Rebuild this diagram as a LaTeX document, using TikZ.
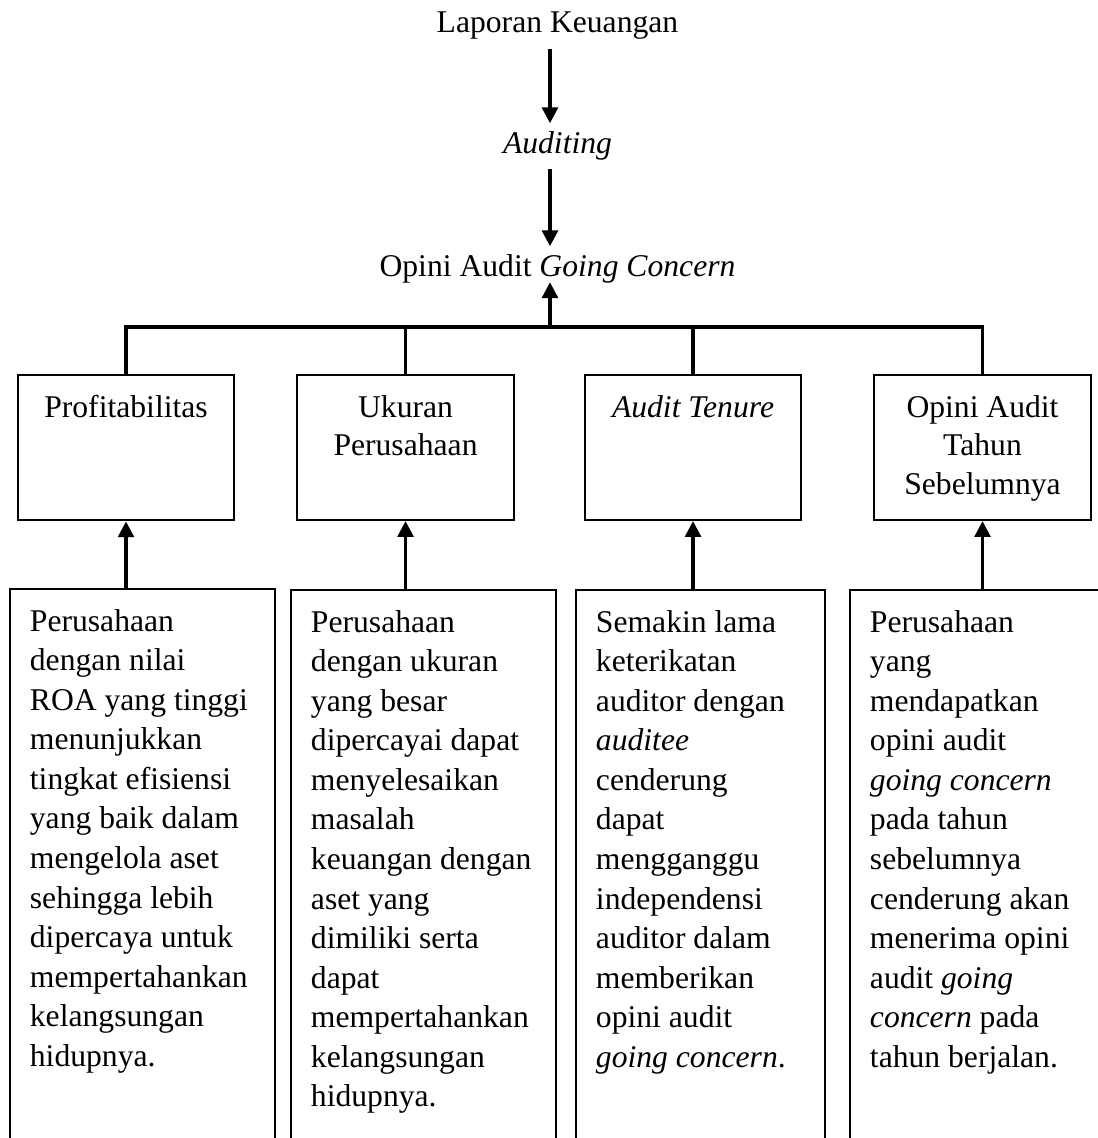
\documentclass[tikz,border=0pt]{standalone}
\usepackage{fontspec}
\setmainfont{Liberation Serif}
\usetikzlibrary{arrows.meta}
\tikzset{
  title/.style={font=\fontsize{12}{15}\selectfont, inner sep=0.11cm, anchor=base},
  varbox/.style={draw, line width=0.8pt, anchor=north, text width=2.69cm,
                 align=flush center, inner xsep=0.1cm, inner ysep=0.27cm,
                 text depth=1.1cm, font=\fontsize{12}{14.6}\selectfont},
  notebox/.style={draw, line width=0.8pt, anchor=north west, text width=3.0cm,
                  align=flush left, inner xsep=0.265cm, inner ysep=0.27cm,
                  text depth=7.5cm, font=\fontsize{12}{15}\selectfont},
  link/.style={line width=1.2pt},
  arrowlink/.style={link, -{Triangle[length=6pt, width=6pt]}},
}

\begin{document}
\begin{tikzpicture}
    \useasboundingbox (0,0) rectangle (14.627,-15.173);
    % top chain
    \node[title] (lk) at (7.433,-0.44) {Laporan Keuangan};
    \node[title] (aud) at (7.433,-2.053) {\textit{Auditing}};
    \node[title] (gc) at (7.433,-3.693) {Opini Audit \textit{Going Concern}};
    \coordinate (mid) at (7.333,-4.36);
    \draw[arrowlink] (lk.south -| mid) -- (aud.north -| mid);
    \draw[arrowlink] (aud.south -| mid) -- (gc.north -| mid);
    \draw[arrowlink, shorten >=0.07cm] (mid) -- (gc.base -| mid);

    % variables
    \node[varbox] (up1) at (1.68,-4.987) {Profitabilitas};
    \node[varbox] (up2) at (5.407,-4.987) {Ukuran\\Perusahaan};
    \node[varbox] (up3) at (9.24,-4.987) {\textit{Audit Tenure}};
    \node[varbox] (up4) at (13.1,-4.987) {Opini Audit\\Tahun\\Sebelumnya};
    \draw[link] (up1.north) -- (up1.north |- mid) -- (up4.north |- mid) -- (up4.north);
    \draw[link] (up2.north) -- (up2.north |- mid);
    \draw[link] (up3.north) -- (up3.north |- mid);

    % explanations
    \node[notebox] (low1) at (0.12,-7.84) {Perusahaan\\dengan nilai\\ROA yang tinggi\\menunjukkan\\tingkat efisiensi\\yang baik dalam\\mengelola aset\\sehingga lebih\\dipercaya untuk\\mempertahankan\\kelangsungan\\hidupnya.};
    \node[notebox] (low2) at (3.867,-7.853) {Perusahaan\\dengan ukuran\\yang besar\\dipercayai dapat\\menyelesaikan\\masalah\\keuangan dengan\\aset yang\\dimiliki serta\\dapat\\mempertahankan\\kelangsungan\\hidupnya.};
    \node[notebox, text width=2.79cm] (low3) at (7.667,-7.853) {Semakin lama\\keterikatan\\auditor dengan\\\textit{auditee}\\cenderung\\dapat\\mengganggu\\independensi\\auditor dalam\\memberikan\\opini audit\\\textit{going concern}.};
    \node[notebox] (low4) at (11.32,-7.853) {Perusahaan\\yang\\mendapatkan\\opini audit\\\textit{going concern}\\pada tahun\\sebelumnya\\cenderung akan\\menerima opini\\audit \textit{going}\\\textit{concern} pada\\tahun berjalan.};
    \draw[arrowlink] (low1.north -| up1.south) -- (up1.south);
    \draw[arrowlink] (low2.north -| up2.south) -- (up2.south);
    \draw[arrowlink] (low3.north -| up3.south) -- (up3.south);
    \draw[arrowlink] (low4.north -| up4.south) -- (up4.south);
\end{tikzpicture}
\end{document}
